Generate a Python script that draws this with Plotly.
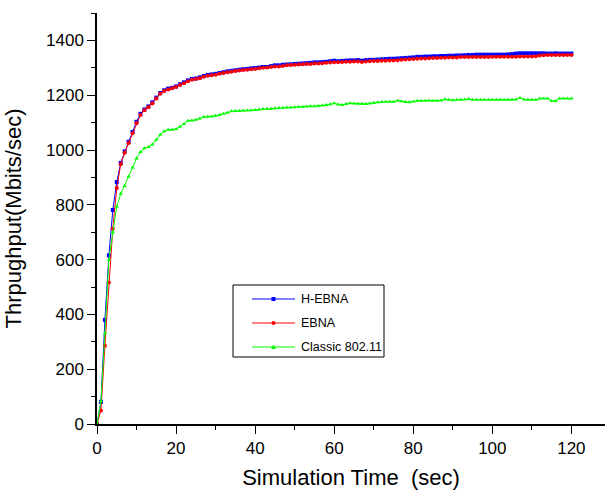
import plotly.graph_objects as go

time_sec = list(range(0, 121))

h_ebna = [
    0, 81, 380, 615, 781, 883, 953, 995, 1030, 1066, 1103, 1132, 1148, 1159, 1174, 1191, 1208, 1218, 1224, 1227, 1232, 1240, 1247, 1254, 1259, 1261,
    1265, 1270, 1274, 1276, 1278, 1281, 1284, 1287, 1289, 1291, 1293, 1295, 1296, 1298, 1299,
    1301, 1303, 1303, 1306, 1309, 1309, 1311, 1312, 1313, 1314, 1315, 1316, 1317, 1318, 1320, 1320, 1321, 1322, 1324, 1326,
    1324, 1325, 1326, 1327, 1327, 1328, 1326, 1328, 1329, 1329, 1330, 1331, 1332, 1333, 1333, 1334, 1335, 1336, 1337, 1338,
    1340, 1340, 1341, 1341, 1342, 1342, 1343, 1343, 1344, 1344, 1345, 1345, 1346, 1347, 1347, 1348, 1348, 1348, 1348, 1348,
    1348, 1348, 1348, 1349, 1350, 1352, 1353, 1353, 1353, 1353, 1353, 1353, 1353, 1352, 1352, 1353, 1352, 1352, 1352, 1352,
]

ebna = [
    0, 49, 286, 516, 713, 861, 948, 990, 1026, 1061, 1098, 1128, 1145, 1156, 1170, 1188, 1205, 1215, 1221, 1225, 1230, 1237, 1244, 1251, 1256, 1259,
    1262, 1267, 1271, 1273, 1275, 1278, 1281, 1284, 1286, 1288, 1290, 1292, 1293, 1295, 1296,
    1298, 1300, 1301, 1303, 1305, 1305, 1307, 1309, 1310, 1311, 1312, 1313, 1314, 1314, 1316, 1316, 1317, 1318, 1319, 1320,
    1320, 1321, 1322, 1322, 1323, 1323, 1321, 1323, 1324, 1325, 1325, 1326, 1326, 1327, 1327, 1328, 1329, 1330, 1331, 1332,
    1333, 1334, 1334, 1335, 1336, 1336, 1337, 1337, 1338, 1338, 1338, 1339, 1339, 1339, 1339, 1339, 1339, 1339, 1339, 1340,
    1340, 1340, 1340, 1340, 1340, 1340, 1341, 1341, 1341, 1341, 1342, 1345, 1346, 1347, 1347, 1347, 1347, 1347, 1347, 1347,
]

classic = [
    0, 83, 331, 599, 699, 794, 840, 869, 903, 936, 969, 993, 1006, 1011, 1020, 1037, 1056, 1068, 1074, 1074, 1077, 1085, 1095, 1107, 1108, 1110,
    1115, 1120, 1121, 1122, 1125, 1128, 1132, 1136, 1141, 1142, 1142, 1144, 1144, 1145, 1146,
    1148, 1150, 1151, 1151, 1152, 1153, 1154, 1155, 1155, 1156, 1158, 1158, 1159, 1160, 1160, 1161, 1162, 1164, 1167, 1171,
    1166, 1164, 1168, 1171, 1170, 1169, 1169, 1168, 1170, 1172, 1174, 1175, 1176, 1176, 1176, 1180, 1178, 1175, 1174, 1177,
    1180, 1180, 1180, 1181, 1180, 1180, 1181, 1185, 1183, 1182, 1183, 1183, 1184, 1186, 1183, 1183, 1183, 1183, 1183, 1183,
    1183, 1183, 1183, 1183, 1183, 1184, 1190, 1184, 1183, 1183, 1183, 1188, 1188, 1188, 1179, 1179, 1188, 1188, 1188, 1188,
]

series_names = ["H-EBNA", "EBNA", "Classic 802.11"]
series_values = [h_ebna, ebna, classic]
colors = ["#0000FF", "#FF0000", "#00FF00"]
symbols = ["square", "circle", "triangle-up"]

x_ticks = [0, 20, 40, 60, 80, 100, 120]
y_ticks = [0, 200, 400, 600, 800, 1000, 1200, 1400]

W, H = 605, 490
ML, MR, MT, MB = 97, 0, 13, 66
PW, PH = W - ML - MR, H - MT - MB


def px_x(p):
    return (p - ML) / PW


def px_y(p):
    return (H - MB - p) / PH


fig = go.Figure()
for i, (name, vals) in enumerate(zip(series_names, series_values)):
    fig.add_trace(go.Scatter(
        x=time_sec, y=vals, name=name, mode="lines+markers",
        line=dict(color=colors[i], width=1),
        marker=dict(symbol=symbols[i], size=4, color=colors[i]),
        showlegend=False,
    ))

# Hand-built legend box (matches the reference layout)
shapes = [dict(type="rect", xref="paper", yref="paper",
               x0=px_x(233), x1=px_x(384), y0=px_y(357), y1=px_y(285),
               line=dict(color="black", width=1), fillcolor="white", layer="above")]
annotations = []
row_y = [299, 323, 347]
for i, name in enumerate(series_names):
    yy = px_y(row_y[i])
    shapes.append(dict(type="line", xref="paper", yref="paper",
                       x0=px_x(252), x1=px_x(295), y0=yy, y1=yy,
                       line=dict(color=colors[i], width=1), layer="above"))
    cx = px_x(273.5)
    if symbols[i] == "square":
        shapes.append(dict(type="rect", xref="paper", yref="paper", xsizemode="pixel", ysizemode="pixel",
                           xanchor=cx, yanchor=yy, x0=-2, x1=2, y0=-2, y1=2,
                           line=dict(width=0), fillcolor=colors[i], layer="above"))
    elif symbols[i] == "circle":
        shapes.append(dict(type="circle", xref="paper", yref="paper", xsizemode="pixel", ysizemode="pixel",
                           xanchor=cx, yanchor=yy, x0=-2, x1=2, y0=-2, y1=2,
                           line=dict(width=0), fillcolor=colors[i], layer="above"))
    else:
        shapes.append(dict(type="path", xref="paper", yref="paper", xsizemode="pixel", ysizemode="pixel",
                           xanchor=cx, yanchor=yy, path="M -2.5 -2 L 2.5 -2 L 0 2.5 Z",
                           line=dict(width=0), fillcolor=colors[i], layer="above"))
    annotations.append(dict(xref="paper", yref="paper", x=px_x(299), y=yy,
                            xanchor="left", yanchor="middle", text=name, showarrow=False,
                            font=dict(size=12.5, color="black")))

font_family = "Arial, Liberation Sans, sans-serif"
fig.update_layout(
    width=W, height=H,
    margin=dict(l=ML, r=MR, t=MT, b=MB),
    paper_bgcolor="white", plot_bgcolor="white",
    font=dict(family=font_family, size=14, color="black"),
    showlegend=False,
    shapes=shapes,
    annotations=annotations,
    xaxis=dict(
        range=[0, 128.5], tickvals=x_ticks, showgrid=False, zeroline=False,
        showline=True, linecolor="black", linewidth=1.5,
        ticks="outside", ticklen=8, tickwidth=1.2, tickcolor="black",
        minor=dict(dtick=10, tick0=0, ticks="outside", ticklen=4, tickwidth=1, tickcolor="black"),
        title=dict(text="Simulation Time  (sec)", font=dict(size=22), standoff=12),
        tickfont=dict(size=17),
    ),
    yaxis=dict(
        range=[0, 1500], tickvals=y_ticks, showgrid=False, zeroline=False,
        showline=True, linecolor="black", linewidth=1.5,
        ticks="outside", ticklen=8, tickwidth=1.2, tickcolor="black",
        minor=dict(dtick=100, tick0=0, ticks="outside", ticklen=4, tickwidth=1, tickcolor="black"),
        title=dict(text="Thrpughput(Mbits/sec)", font=dict(size=22), standoff=18),
        tickfont=dict(size=17),
    ),
)

fig.write_html("out.html")
